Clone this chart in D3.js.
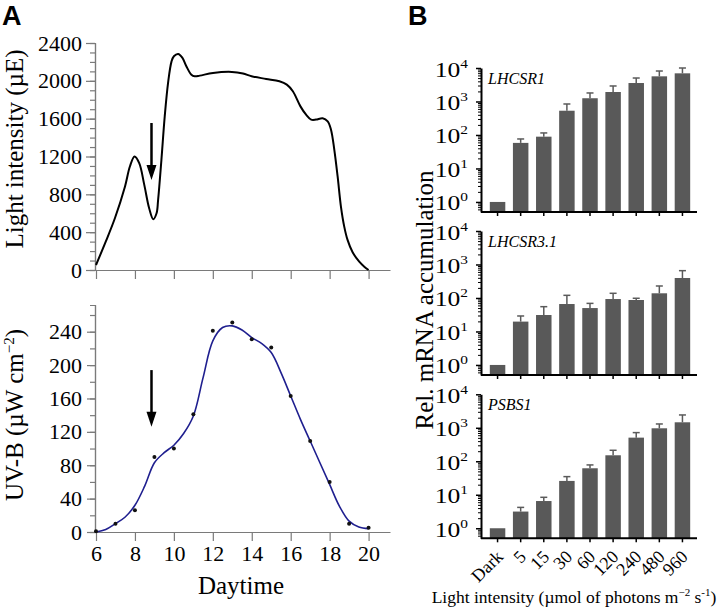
<!DOCTYPE html>
<html><head><meta charset="utf-8">
<script src="https://cdn.jsdelivr.net/npm/d3@7"></script>
<style>
body{margin:0;background:#fff}
svg{display:block}
text{font-family:"Liberation Serif","Times New Roman",serif;fill:#000}
text.plabel{font-family:"Liberation Sans",Arial,sans-serif;font-weight:bold}
</style></head><body>
<svg id="c" width="720" height="608"></svg>
<script>
// ---------- Data ----------
// Panel A (top): light intensity trace
const lightHours  = [6, 6.5, 6.97, 7.49, 7.74, 7.98, 8.22, 8.48, 8.73, 8.94, 9.11, 9.19, 9.36, 9.53, 9.70, 9.88, 10.0, 10.22, 10.44, 10.64, 10.9, 11.07, 11.33, 12.01, 12.98, 13.55, 13.99, 14.74, 15.42, 15.8, 16.11, 16.5, 16.79, 17.05, 17.3, 17.64, 17.9, 18.07, 18.24, 18.41, 18.58, 18.75, 18.92, 19.18, 19.52, 19.78, 20];
const lightValues = [53, 300, 547, 883, 1094, 1200, 1130, 900, 653, 537, 600, 741, 1165, 1624, 1977, 2206, 2260, 2284, 2242, 2154, 2065, 2048, 2055, 2083, 2094, 2077, 2048, 2020, 1995, 1960, 1890, 1730, 1642, 1590, 1590, 1604, 1572, 1483, 1271, 989, 671, 459, 318, 187, 88, 35, 0];
// Panel A (bottom): UV-B measured points
const uvbHours  = [6, 7, 8, 9, 10, 11, 12, 13, 14, 15, 16, 17, 18, 19, 20];
const uvbValues = [1, 10, 26, 90, 100, 141, 241, 251, 231, 221, 163, 109, 60, 10, 5];
// Panel A (bottom): smoothed fit
const uvbFitHours  = [6, 6.5, 7, 7.5, 8, 8.5, 9, 9.5, 10, 10.5, 11, 11.5, 12, 12.5, 13, 13.5, 14, 14.5, 15, 15.5, 16, 16.5, 17, 17.5, 18, 18.5, 19, 19.5, 20];
const uvbFitValues = [0, 3, 10, 18, 32, 55, 83, 95, 104, 118, 139, 185, 229, 245, 247, 242, 233, 226, 215, 191, 163, 135, 109, 83, 57, 31, 13, 6, 4];
const hourTicks  = [6, 8, 10, 12, 14, 16, 18, 20];
const lightTicks = [0, 400, 800, 1200, 1600, 2000, 2400];
const uvbTicks   = [0, 40, 80, 120, 160, 200, 240];
const arrowHour = 8.85;

// Panel B
const categories = ["Dark", "5", "15", "30", "60", "120", "240", "480", "960"];
const genes = ["LHCSR1", "LHCSR3.1", "PSBS1"];
const lhcsr1Mean  = [1, 58, 89, 530, 1250, 1920, 3560, 5640, 6930];
const lhcsr1Upper = [1, 76, 115, 842, 1796, 2904, 5023, 8130, 10000];
const lhcsr3Mean  = [1, 19.7, 31, 66, 50, 93, 87, 138, 395];
const lhcsr3Upper = [1, 29, 55, 120, 69, 138, 98, 228, 654];
const psbs1Mean   = [1, 3.15, 6.5, 25.9, 61.8, 151, 508, 966, 1459];
const psbs1Upper  = [1, 4.2, 8.4, 34.8, 77.8, 213, 718, 1300, 2416];
const logTicks = [1, 10, 100, 1000, 10000];

// ---------- Drawing ----------
const svg = d3.select("#c");
const axisGray = "#7a7a7a";

function styleAxisA(g) {
  g.select(".domain").attr("stroke", axisGray).attr("stroke-width", 1.2);
  g.selectAll(".tick line").attr("stroke", axisGray).attr("stroke-width", 1.2);
  g.selectAll(".tick text").style("font-size", "22px").attr("fill", "#000");
}

// Panel labels
svg.append("text").attr("class", "plabel").attr("x", 2).attr("y", 25).style("font-size", "27px").text("A");
svg.append("text").attr("class", "plabel").attr("x", 408).attr("y", 25).style("font-size", "27px").text("B");

// Shared x scale for panel A
const xA = d3.scaleLinear().domain([6, 21.1]).range([96, 390]);

// --- Top: light intensity
const yL = d3.scaleLinear().domain([0, 2400]).range([270, 43]);
const gL = svg.append("g");
gL.append("g").attr("transform", "translate(95,0)")
  .call(d3.axisLeft(yL).tickValues(d3.range(0, 2401, 100)).tickSize(5).tickFormat(""))
  .call(styleAxisA);
gL.append("g").attr("transform", "translate(95,0)")
  .call(d3.axisLeft(yL).tickValues(lightTicks).tickSize(9).tickPadding(4).tickSizeOuter(0).tickFormat(d3.format("d")))
  .call(styleAxisA);
gL.append("g").attr("transform", `translate(0,${yL(0)})`)
  .call(d3.axisBottom(xA).tickValues(hourTicks).tickSize(9).tickFormat("").tickSizeOuter(0))
  .call(styleAxisA);
gL.append("path")
  .datum(lightHours.map((h, i) => [h, lightValues[i]]))
  .attr("fill", "none").attr("stroke", "#000").attr("stroke-width", 2)
  .attr("d", d3.line().x(d => xA(d[0])).y(d => yL(d[1])).curve(d3.curveCatmullRom.alpha(0.5)));

// arrows
function arrow(g, x, y1, y2) {
  g.append("line").attr("x1", x).attr("x2", x).attr("y1", y1).attr("y2", y2 - 10)
    .attr("stroke", "#000").attr("stroke-width", 2.5);
  g.append("path").attr("d", `M${x - 5},${y2 - 15} L${x + 5},${y2 - 15} L${x},${y2} Z`).attr("fill", "#000");
}
arrow(gL, xA(arrowHour), yL(1554), yL(951));

// Y label top
svg.append("text").attr("transform", "translate(23,149) rotate(-90)")
  .attr("text-anchor", "middle").style("font-size", "25px").text("Light intensity (µE)");

// --- Bottom: UV-B
const yU = d3.scaleLinear().domain([0, 272]).range([532, 305]);
const gU = svg.append("g");
gU.append("g").attr("transform", "translate(95,0)")
  .call(d3.axisLeft(yU).tickValues(d3.range(0, 261, 20)).tickSize(5).tickFormat(""))
  .call(styleAxisA);
gU.append("g").attr("transform", "translate(95,0)")
  .call(d3.axisLeft(yU).tickValues(uvbTicks).tickSize(8).tickPadding(5).tickSizeOuter(0))
  .call(styleAxisA);
gU.append("g").attr("transform", `translate(0,${yU(0)})`)
  .call(d3.axisBottom(xA).tickValues(hourTicks).tickSize(9).tickPadding(4).tickSizeOuter(0))
  .call(styleAxisA);
gU.append("path")
  .datum(uvbFitHours.map((h, i) => [h, uvbFitValues[i]]))
  .attr("fill", "none").attr("stroke", "#1f1f8f").attr("stroke-width", 1.6)
  .attr("d", d3.line().x(d => xA(d[0])).y(d => yU(d[1])).curve(d3.curveCatmullRom.alpha(0.5)));
gU.selectAll("circle.pt").data(uvbHours.map((h, i) => [h, uvbValues[i]])).enter()
  .append("circle").attr("class", "pt")
  .attr("cx", d => xA(d[0])).attr("cy", d => yU(d[1])).attr("r", 2).attr("fill", "#111");
arrow(gU, xA(arrowHour), yU(194), yU(126));

const uvLab = svg.append("text").attr("transform", "translate(23,415) rotate(-90)")
  .attr("text-anchor", "middle").style("font-size", "25px");
uvLab.append("tspan").text("UV-B (µW cm");
uvLab.append("tspan").attr("dy", -9).style("font-size", "15px").text("−2");
uvLab.append("tspan").attr("dy", 9).text(")");

svg.append("text").attr("x", 241).attr("y", 594).attr("text-anchor", "middle")
  .style("font-size", "25px").text("Daytime");

// --- Panel B
const xB = d3.scaleBand().domain(categories).range([486, 694]).paddingInner(0.33).paddingOuter(0.165);
const panelTops = [68, 231, 394.3];
const means = [lhcsr1Mean, lhcsr3Mean, psbs1Mean];
const uppers = [lhcsr1Upper, lhcsr3Upper, psbs1Upper];
const minorVals = [];
for (let d = -1; d < 4; d++) for (let k = 2; k <= 9; k++) {
  const v = k * Math.pow(10, d);
  if (v >= 0.55 && v < 10000) minorVals.push(v);
}

genes.forEach((gene, p) => {
  const top = panelTops[p];
  const base = top + 144;
  const y = d3.scaleLog().domain([Math.pow(10, -0.3), 10000]).range([base, top]);
  const g = svg.append("g");

  // bars
  g.selectAll("rect").data(categories).enter().append("rect")
    .attr("x", d => xB(d)).attr("width", xB.bandwidth())
    .attr("y", (d, i) => y(means[p][i]))
    .attr("height", (d, i) => base - y(means[p][i]))
    .attr("fill", "#595959");
  // error bars
  categories.forEach((c, i) => {
    if (uppers[p][i] <= means[p][i]) return;
    const cx = xB(c) + xB.bandwidth() / 2;
    g.append("line").attr("x1", cx).attr("x2", cx)
      .attr("y1", y(means[p][i])).attr("y2", y(uppers[p][i]))
      .attr("stroke", "#5a5a5a").attr("stroke-width", 1.5);
    g.append("line").attr("x1", cx - 3.5).attr("x2", cx + 3.5)
      .attr("y1", y(uppers[p][i])).attr("y2", y(uppers[p][i]))
      .attr("stroke", "#5a5a5a").attr("stroke-width", 1.5);
  });

  // y axis minor
  g.append("g").attr("transform", "translate(481,0)")
    .call(d3.axisLeft(y).tickValues(minorVals).tickSize(3).tickFormat("").tickSizeOuter(0))
    .call(a => { a.select(".domain").remove(); a.selectAll(".tick line").attr("stroke", "#000").attr("stroke-width", 1); });
  // y axis major
  g.append("g").attr("transform", "translate(481,0)")
    .call(d3.axisLeft(y).tickValues(logTicks).tickSize(5).tickSizeOuter(0).tickFormat(() => ""))
    .call(a => {
      a.select(".domain").attr("stroke", "#000").attr("stroke-width", 2);
      a.selectAll(".tick line").attr("stroke", "#000").attr("stroke-width", 1.5);
      a.selectAll(".tick").each(function (d) {
        const t = d3.select(this).append("text")
          .attr("transform", "translate(-13,8) scale(1.28,1)")
          .attr("text-anchor", "end").style("font-size", "20px").attr("fill", "#000");
        t.append("tspan").text("10");
        t.append("tspan").attr("dy", -9).style("font-size", "12px").text(Math.round(Math.log10(d)));
      });
    });
  // x axis
  const xa = g.append("g").attr("transform", `translate(0,${base})`)
    .call(d3.axisBottom(xB).tickSize(4).tickSizeOuter(0).tickFormat(p === 2 ? (d => d) : ""));
  xa.select(".domain").attr("d", `M481,0H697`).attr("stroke", "#000").attr("stroke-width", 2);
  xa.selectAll(".tick line").attr("stroke", "#000").attr("stroke-width", 1.5);
  if (p === 2) {
    xa.selectAll(".tick text")
      .style("font-size", "18px").attr("fill", "#000")
      .attr("text-anchor", "end").attr("x", 0).attr("y", 0).attr("dy", "0.35em")
      .attr("transform", "translate(2,15) rotate(-45)");
  }

  g.append("text").attr("x", 488).attr("y", top + 16)
    .style("font-style", "italic").style("font-size", "16px").text(gene);
});

svg.append("text").attr("transform", "translate(433,300) rotate(-90)")
  .attr("text-anchor", "middle").style("font-size", "25px").text("Rel. mRNA accumulation");

const xl = svg.append("text").attr("x", 574).attr("y", 603).attr("text-anchor", "middle").style("font-size", "17.5px");
xl.append("tspan").text("Light intensity (µmol of photons m");
xl.append("tspan").attr("dy", -7).style("font-size", "11px").text("−2");
xl.append("tspan").attr("dy", 7).text(" s");
xl.append("tspan").attr("dy", -7).style("font-size", "11px").text("-1");
xl.append("tspan").attr("dy", 7).text(")");
</script>
</body></html>
